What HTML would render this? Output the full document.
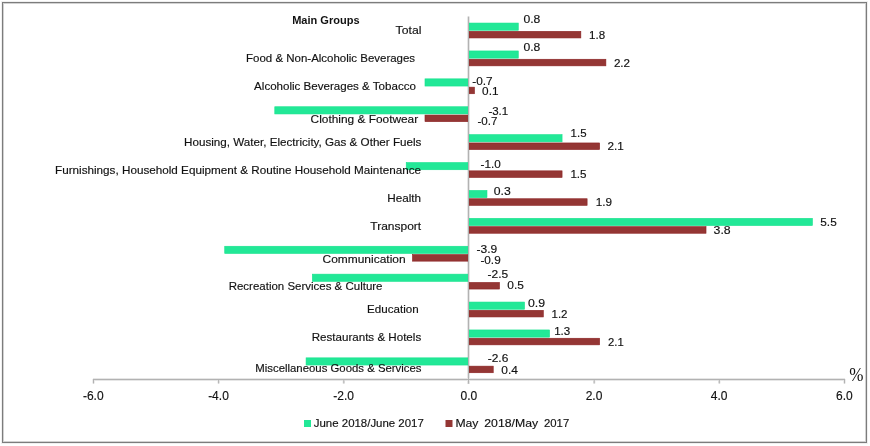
<!DOCTYPE html>
<html><head><meta charset="utf-8"><style>
html,body{margin:0;padding:0;background:#fff;width:870px;height:446px;overflow:hidden}
svg{display:block;will-change:transform}
text{font-family:"Liberation Sans",sans-serif;font-size:11.2px;fill:#111;stroke:#111;stroke-width:0.15px}
</style></head><body>
<svg width="870" height="446" viewBox="0 0 870 446">
<rect x="0" y="0" width="870" height="446" fill="#fff"/>
<rect x="1.5" y="1.5" width="866" height="442" fill="none" stroke="#f0f0f0" stroke-width="1"/>
<rect x="3.5" y="3.5" width="862" height="438" fill="none" stroke="#d2d2d2" stroke-width="1"/>
<rect x="2.5" y="2.5" width="864" height="440" fill="none" stroke="#7c7c7c" stroke-width="1"/>
<line x1="93" y1="379.5" x2="845" y2="379.5" stroke="#e6e6e6" stroke-width="3"/><line x1="468.5" y1="16.60" x2="468.5" y2="384" stroke="#e6e6e6" stroke-width="3"/><line x1="93.5" y1="379" x2="93.5" y2="383.5" stroke="#e6e6e6" stroke-width="2.4"/><line x1="218.6" y1="379" x2="218.6" y2="383.5" stroke="#e6e6e6" stroke-width="2.4"/><line x1="343.8" y1="379" x2="343.8" y2="383.5" stroke="#e6e6e6" stroke-width="2.4"/><line x1="468.5" y1="379" x2="468.5" y2="383.5" stroke="#e6e6e6" stroke-width="2.4"/><line x1="594.2" y1="379" x2="594.2" y2="383.5" stroke="#e6e6e6" stroke-width="2.4"/><line x1="719.3" y1="379" x2="719.3" y2="383.5" stroke="#e6e6e6" stroke-width="2.4"/><line x1="844.5" y1="379" x2="844.5" y2="383.5" stroke="#e6e6e6" stroke-width="2.4"/><rect x="468.80" y="23.05" width="49.47" height="7.20" fill="#22E897" stroke="#14E28C" stroke-width="0.6"/><rect x="468.80" y="31.35" width="112.05" height="6.60" fill="#943634" stroke="#8a2222" stroke-width="0.6"/><rect x="468.80" y="50.95" width="49.47" height="7.20" fill="#22E897" stroke="#14E28C" stroke-width="0.6"/><rect x="468.80" y="59.25" width="137.08" height="6.60" fill="#943634" stroke="#8a2222" stroke-width="0.6"/><rect x="424.99" y="78.85" width="43.21" height="7.20" fill="#22E897" stroke="#14E28C" stroke-width="0.6"/><rect x="468.80" y="87.15" width="5.66" height="6.60" fill="#943634" stroke="#8a2222" stroke-width="0.6"/><rect x="274.79" y="106.75" width="193.41" height="7.20" fill="#22E897" stroke="#14E28C" stroke-width="0.6"/><rect x="424.99" y="115.05" width="43.21" height="6.60" fill="#943634" stroke="#8a2222" stroke-width="0.6"/><rect x="468.80" y="134.65" width="93.27" height="7.20" fill="#22E897" stroke="#14E28C" stroke-width="0.6"/><rect x="468.80" y="142.95" width="130.82" height="6.60" fill="#943634" stroke="#8a2222" stroke-width="0.6"/><rect x="406.22" y="162.55" width="61.98" height="7.20" fill="#22E897" stroke="#14E28C" stroke-width="0.6"/><rect x="468.80" y="170.85" width="93.27" height="6.60" fill="#943634" stroke="#8a2222" stroke-width="0.6"/><rect x="468.80" y="190.45" width="18.17" height="7.20" fill="#22E897" stroke="#14E28C" stroke-width="0.6"/><rect x="468.80" y="198.75" width="118.31" height="6.60" fill="#943634" stroke="#8a2222" stroke-width="0.6"/><rect x="468.80" y="218.35" width="343.61" height="7.20" fill="#22E897" stroke="#14E28C" stroke-width="0.6"/><rect x="468.80" y="226.65" width="237.22" height="6.60" fill="#943634" stroke="#8a2222" stroke-width="0.6"/><rect x="224.73" y="246.25" width="243.47" height="7.20" fill="#22E897" stroke="#14E28C" stroke-width="0.6"/><rect x="412.48" y="254.55" width="55.72" height="6.60" fill="#943634" stroke="#8a2222" stroke-width="0.6"/><rect x="312.34" y="274.15" width="155.86" height="7.20" fill="#22E897" stroke="#14E28C" stroke-width="0.6"/><rect x="468.80" y="282.45" width="30.69" height="6.60" fill="#943634" stroke="#8a2222" stroke-width="0.6"/><rect x="468.80" y="302.05" width="55.72" height="7.20" fill="#22E897" stroke="#14E28C" stroke-width="0.6"/><rect x="468.80" y="310.35" width="74.50" height="6.60" fill="#943634" stroke="#8a2222" stroke-width="0.6"/><rect x="468.80" y="329.95" width="80.76" height="7.20" fill="#22E897" stroke="#14E28C" stroke-width="0.6"/><rect x="468.80" y="338.25" width="130.82" height="6.60" fill="#943634" stroke="#8a2222" stroke-width="0.6"/><rect x="306.08" y="357.85" width="162.12" height="7.20" fill="#22E897" stroke="#14E28C" stroke-width="0.6"/><rect x="468.80" y="366.15" width="24.43" height="6.60" fill="#943634" stroke="#8a2222" stroke-width="0.6"/><line x1="468.5" y1="16.60" x2="468.5" y2="383.5" stroke="#b2b2b2" stroke-width="1"/><line x1="93" y1="379.5" x2="845" y2="379.5" stroke="#b2b2b2" stroke-width="1"/><line x1="93.5" y1="379" x2="93.5" y2="383.5" stroke="#b2b2b2" stroke-width="1"/><line x1="218.6" y1="379" x2="218.6" y2="383.5" stroke="#b2b2b2" stroke-width="1"/><line x1="343.8" y1="379" x2="343.8" y2="383.5" stroke="#b2b2b2" stroke-width="1"/><line x1="468.5" y1="379" x2="468.5" y2="383.5" stroke="#b2b2b2" stroke-width="1"/><line x1="594.2" y1="379" x2="594.2" y2="383.5" stroke="#b2b2b2" stroke-width="1"/><line x1="719.3" y1="379" x2="719.3" y2="383.5" stroke="#b2b2b2" stroke-width="1"/><line x1="844.5" y1="379" x2="844.5" y2="383.5" stroke="#b2b2b2" stroke-width="1"/>
<text x="292.2" y="23.5" textLength="67.4" lengthAdjust="spacingAndGlyphs" style="font-weight:bold;stroke:none">Main Groups</text>
<text x="395.60" y="34.30" textLength="25.80" lengthAdjust="spacingAndGlyphs">Total</text><text x="246.10" y="61.80" textLength="169.00" lengthAdjust="spacingAndGlyphs">Food &amp; Non-Alcoholic Beverages</text><text x="254.10" y="89.80" textLength="161.80" lengthAdjust="spacingAndGlyphs">Alcoholic Beverages &amp; Tobacco</text><text x="310.60" y="123.40" textLength="107.60" lengthAdjust="spacingAndGlyphs">Clothing &amp; Footwear</text><text x="184.10" y="145.90" textLength="237.30" lengthAdjust="spacingAndGlyphs">Housing, Water, Electricity, Gas &amp; Other Fuels</text><text x="55.00" y="173.90" textLength="366.00" lengthAdjust="spacingAndGlyphs">Furnishings, Household Equipment &amp; Routine Household Maintenance</text><text x="387.20" y="201.80" textLength="33.90" lengthAdjust="spacingAndGlyphs">Health</text><text x="370.30" y="229.50" textLength="50.90" lengthAdjust="spacingAndGlyphs">Transport</text><text x="322.50" y="262.90" textLength="83.10" lengthAdjust="spacingAndGlyphs">Communication</text><text x="228.70" y="290.00" textLength="153.80" lengthAdjust="spacingAndGlyphs">Recreation Services &amp; Culture</text><text x="367.10" y="312.50" textLength="51.50" lengthAdjust="spacingAndGlyphs">Education</text><text x="311.70" y="340.70" textLength="109.50" lengthAdjust="spacingAndGlyphs">Restaurants &amp; Hotels</text><text x="255.30" y="371.50" textLength="166.20" lengthAdjust="spacingAndGlyphs">Miscellaneous Goods &amp; Services</text><text x="523.40" y="22.90" textLength="16.90" lengthAdjust="spacingAndGlyphs">0.8</text><text x="589.10" y="39.10" textLength="16.10" lengthAdjust="spacingAndGlyphs">1.8</text><text x="523.40" y="50.50" textLength="16.90" lengthAdjust="spacingAndGlyphs">0.8</text><text x="613.90" y="67.00" textLength="16.20" lengthAdjust="spacingAndGlyphs">2.2</text><text x="472.30" y="85.40" textLength="20.40" lengthAdjust="spacingAndGlyphs">-0.7</text><text x="482.10" y="95.20" textLength="16.40" lengthAdjust="spacingAndGlyphs">0.1</text><text x="488.40" y="114.60" textLength="19.80" lengthAdjust="spacingAndGlyphs">-3.1</text><text x="477.40" y="125.10" textLength="20.00" lengthAdjust="spacingAndGlyphs">-0.7</text><text x="570.60" y="137.40" textLength="15.90" lengthAdjust="spacingAndGlyphs">1.5</text><text x="607.60" y="150.20" textLength="16.30" lengthAdjust="spacingAndGlyphs">2.1</text><text x="480.60" y="167.60" textLength="20.20" lengthAdjust="spacingAndGlyphs">-1.0</text><text x="570.40" y="178.40" textLength="16.20" lengthAdjust="spacingAndGlyphs">1.5</text><text x="493.70" y="194.50" textLength="17.00" lengthAdjust="spacingAndGlyphs">0.3</text><text x="595.70" y="206.20" textLength="16.30" lengthAdjust="spacingAndGlyphs">1.9</text><text x="820.30" y="226.00" textLength="16.40" lengthAdjust="spacingAndGlyphs">5.5</text><text x="713.60" y="233.90" textLength="17.10" lengthAdjust="spacingAndGlyphs">3.8</text><text x="476.60" y="252.70" textLength="20.70" lengthAdjust="spacingAndGlyphs">-3.9</text><text x="480.40" y="264.40" textLength="20.30" lengthAdjust="spacingAndGlyphs">-0.9</text><text x="487.60" y="277.60" textLength="20.60" lengthAdjust="spacingAndGlyphs">-2.5</text><text x="507.30" y="289.40" textLength="16.60" lengthAdjust="spacingAndGlyphs">0.5</text><text x="528.00" y="307.30" textLength="17.10" lengthAdjust="spacingAndGlyphs">0.9</text><text x="551.50" y="317.70" textLength="16.00" lengthAdjust="spacingAndGlyphs">1.2</text><text x="554.20" y="334.90" textLength="16.10" lengthAdjust="spacingAndGlyphs">1.3</text><text x="608.00" y="345.70" textLength="15.70" lengthAdjust="spacingAndGlyphs">2.1</text><text x="487.80" y="361.80" textLength="20.50" lengthAdjust="spacingAndGlyphs">-2.6</text><text x="501.30" y="373.60" textLength="16.60" lengthAdjust="spacingAndGlyphs">0.4</text><text x="93.30" y="399.6" text-anchor="middle" style="font-size:12px">-6.0</text><text x="218.47" y="399.6" text-anchor="middle" style="font-size:12px">-4.0</text><text x="343.63" y="399.6" text-anchor="middle" style="font-size:12px">-2.0</text><text x="468.80" y="399.6" text-anchor="middle" style="font-size:12px">0.0</text><text x="593.97" y="399.6" text-anchor="middle" style="font-size:12px">2.0</text><text x="719.13" y="399.6" text-anchor="middle" style="font-size:12px">4.0</text><text x="844.30" y="399.6" text-anchor="middle" style="font-size:12px">6.0</text>
<text transform="translate(849.2,380.9) scale(0.98,1.12)" x="0" y="0" style="font-family:'Liberation Serif',serif;font-size:17.4px;stroke:none">%</text>

<rect x="304" y="420" width="7" height="7" fill="#22E897"/>
<text x="313.8" y="426.6" textLength="110" lengthAdjust="spacingAndGlyphs">June 2018/June 2017</text>
<rect x="445.5" y="420" width="7" height="7" fill="#943634"/>
<text x="455.4" y="426.6" textLength="23.0" lengthAdjust="spacingAndGlyphs">May</text>
<text x="484.3" y="426.6" textLength="53.8" lengthAdjust="spacingAndGlyphs">2018/May</text>
<text x="544.0" y="426.6" textLength="25.2" lengthAdjust="spacingAndGlyphs">2017</text>

</svg>
</body></html>
